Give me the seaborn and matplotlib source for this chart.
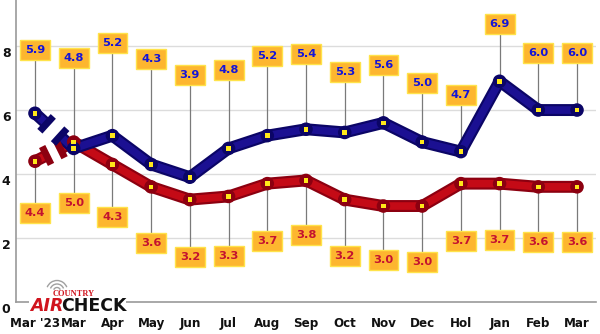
import numpy as np
import pandas as pd
import matplotlib
matplotlib.use("Agg")
import matplotlib.pyplot as plt
from matplotlib.patches import Arc, Rectangle
import matplotlib.transforms as mtransforms
import seaborn as sns

months = ["Mar '23", "Mar", "Apr", "May", "Jun", "Jul", "Aug", "Sep",
          "Oct", "Nov", "Dec", "Hol", "Jan", "Feb", "Mar"]
blue_values = [5.9, 4.8, 5.2, 4.3, 3.9, 4.8, 5.2, 5.4, 5.3, 5.6, 5.0, 4.7, 6.9, 6.0, 6.0]
red_values = [4.4, 5.0, 4.3, 3.6, 3.2, 3.3, 3.7, 3.8, 3.2, 3.0, 3.0, 3.7, 3.7, 3.6, 3.6]
y_ticks = [0, 2, 4, 6, 8]

# heights (data units) at which the value tags sit
blue_tag_y = [7.88, 7.62, 8.1, 7.6, 7.1, 7.25, 7.69, 7.75, 7.19, 7.4, 6.85, 6.47, 8.69, 7.78, 7.78]
red_tag_y = [2.78, 3.1, 2.65, 1.85, 1.4, 1.44, 1.9, 2.1, 1.44, 1.31, 1.25, 1.9, 1.94, 1.88, 1.88]

df = pd.DataFrame({"x": np.arange(len(months)), "blue": blue_values, "red": red_values})

sns.set_theme(style="white")
plt.rcParams["font.family"] = ["DejaVu Sans"]

fig = plt.figure(figsize=(6.0, 3.34), dpi=100)
ax = fig.add_axes([16 / 600, 32 / 334, 580 / 600, 302 / 334])
ax.set_xlim(-0.49, 14.49)
ax.set_ylim(0, 9.44)

# grid and axes
for yv in y_ticks[1:]:
    ax.axhline(yv, color="#dcdcdc", lw=1.0, zorder=0)
for s in ["top", "right"]:
    ax.spines[s].set_visible(False)
for s in ["left", "bottom"]:
    ax.spines[s].set_color("#9a9a9a")
    ax.spines[s].set_linewidth(1.2)
ax.set_yticks(y_ticks)
ax.set_yticklabels([str(v) for v in y_ticks], fontweight="bold", fontsize=9, color="#111111")
ax.set_xticks(df["x"])
ax.set_xticklabels(months, fontweight="bold", fontsize=9.5, color="#111111",
                   fontstretch="condensed")
ax.tick_params(axis="x", direction="in", length=7, width=1, color="#9a9a9a", pad=11)
ax.tick_params(axis="y", length=0, pad=4)
shift = mtransforms.ScaledTranslation(0, -6 / 100, fig.dpi_scale_trans)
for lab in ax.get_yticklabels():
    lab.set_transform(lab.get_transform() + shift)

trans = ax.transData
inv = trans.inverted()


def broken_first_segment(x0, y0, x1, y1, dark, light, t1=0.3, t2=0.65):
    p0 = trans.transform((x0, y0))
    p1 = trans.transform((x1, y1))
    d = p1 - p0
    d = d / np.hypot(*d)
    n = np.array([-d[1], d[0]])
    pa = p0 + (p1 - p0) * t1
    pb = p0 + (p1 - p0) * t2
    for a, b in [(p0, pa), (pb, p1)]:
        da, db = inv.transform(a), inv.transform(b)
        ax.plot([da[0], db[0]], [da[1], db[1]], color=dark, lw=8.6,
                solid_capstyle="butt", zorder=3)
        ax.plot([da[0], db[0]], [da[1], db[1]], color=light, lw=5.5,
                solid_capstyle="butt", zorder=3)
    for c in (pa, pb):
        a = inv.transform(c + n * 10)
        b = inv.transform(c - n * 10)
        ax.plot([a[0], b[0]], [a[1], b[1]], color=dark, lw=5.0,
                solid_capstyle="butt", zorder=3.1)


def draw_series(col, dark, light, tag_y, text_color):
    vals = df[col].values
    xs = df["x"].values
    # connectors to value tags
    for xv, v, ty in zip(xs, vals, tag_y):
        ax.plot([xv, xv], [v, ty], color="#7a7a7a", lw=0.9, zorder=2)
    sub = df.iloc[1:]
    sns.lineplot(data=sub, x="x", y=col, color=dark, lw=8.6, ax=ax, zorder=3,
                 solid_capstyle="round", solid_joinstyle="round", legend=False)
    sns.lineplot(data=sub, x="x", y=col, color=light, lw=5.5, ax=ax, zorder=3,
                 solid_capstyle="round", solid_joinstyle="round", legend=False)
    broken_first_segment(xs[0], vals[0], xs[1], vals[1], dark, light)
    sns.scatterplot(data=df, x="x", y=col, color=dark, s=95, ax=ax, zorder=4,
                    edgecolor="none", legend=False)
    sns.scatterplot(data=df, x="x", y=col, color="#ffe81a", marker="s", s=11, ax=ax,
                    zorder=5, edgecolor="none", legend=False)
    for xv, v, ty in zip(xs, vals, tag_y):
        ax.text(xv, ty, f"{v:.1f}", ha="center", va="center", fontsize=8.2,
                fontweight="bold", color=text_color, zorder=6,
                bbox=dict(boxstyle="square,pad=0.42", fc="#fdb62f", ec="#ffe34a", lw=1.0))


draw_series("red", "#8c0010", "#c40a16", red_tag_y, "#c4122f")
draw_series("blue", "#0b0566", "#1b1092", blue_tag_y, "#1414d8")
ax.set_xlabel("")
ax.set_ylabel("")

# COUNTRY AIRCHECK mark in the lower-left corner
fig.patches.append(Rectangle((29 / 600, 20 / 334), 97 / 600, 34 / 334,
                             transform=fig.transFigure, fc="white", ec="none", zorder=10))
for r in (3.5, 7, 10.5):
    fig.patches.append(Arc((57 / 600, 43 / 334), 2 * r / 600, 2 * r / 334, theta1=35,
                           theta2=145, transform=fig.transFigure, color="#a0a0a0",
                           lw=1.0, zorder=11))
fig.text(74 / 600, 37.5 / 334, "COUNTRY", ha="center", va="baseline", fontsize=6.0,
         fontweight="bold", color="#d0141e", family=["Liberation Serif", "DejaVu Serif"],
         zorder=12)
fig.text(30 / 600, 23 / 334, "AIR", ha="left", va="baseline", fontsize=12.5,
         fontweight="bold", style="italic", color="#d0141e", zorder=12)
fig.text(61 / 600, 23 / 334, "CHECK", ha="left", va="baseline", fontsize=12.5,
         fontweight="bold", color="#111111", zorder=12)

fig.savefig("out.png", dpi=100)
